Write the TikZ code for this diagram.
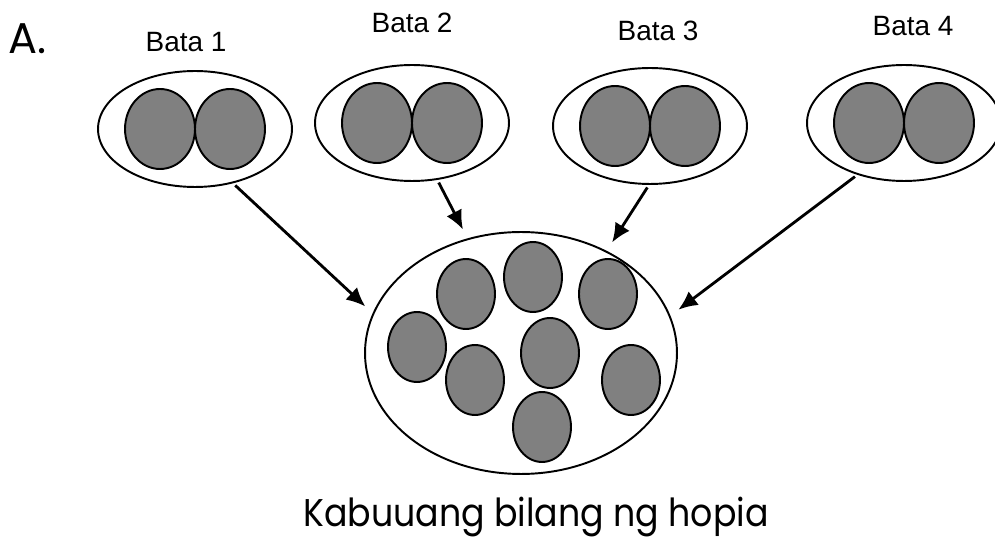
\documentclass[tikz,border=0pt]{standalone}
\usepackage{fontspec}
\setmainfont{Liberation Sans}
\newfontfamily\gothicfont{Poppins}
\newfontfamily\narrowgothicfont[FakeStretch=0.9]{Poppins}
\usetikzlibrary{shapes.geometric,arrows.meta}

\definecolor{hopiagray}{HTML}{808080}

\tikzset{
    group/.style={ellipse, draw, line width=1.1pt, inner sep=0pt,
        minimum width=3.88cm, minimum height=2.32cm},
    hopia/.style={ellipse, draw, line width=1.1pt, fill=hopiagray, inner sep=0pt,
        minimum width=1.4cm, minimum height=1.6cm},
    smallhopia/.style={hopia, minimum width=1.16cm, minimum height=1.4cm},
    batalabel/.style={inner sep=0pt, anchor=base,
        font=\fontsize{15.9pt}{18pt}\selectfont},
    bigtext/.style={inner sep=0pt,
        font=\gothicfont\fontsize{24.5pt}{28pt}\selectfont},
    flow/.style={-{Latex[length=0.38cm,width=0.34cm]}, line width=1.6pt,
        shorten <=0.06cm, shorten >=0.2cm}
}

\begin{document}
\begin{tikzpicture}[x=0.02cm,y=-0.02cm]
    \useasboundingbox (0,0) rectangle (995,540);
    % Title letter
    \node[bigtext, anchor=base west] (title) at (8,54) {A.};

    % Groups of two
    \foreach \n/\cx/\cy/\lx/\ly in {1/195/129/186/52, 2/412/123/412/33,
        3/650/126/658/41, 4/904/123/913/36} {
        \node[group] (b\n) at (\cx,\cy) {};
        \node[hopia] (b\n-l) at ({\cx-35},\cy) {};
        \node[hopia] (b\n-r) at ({\cx+35},\cy) {};
        \node[batalabel] (t\n) at (\lx,\ly) {Bata \n};
    }

    % Total
    \node[group, minimum width=6.24cm, minimum height=4.84cm] (total) at (521,353) {};
    \foreach \i/\x/\y in {1/417/347, 2/466/294, 3/533/277, 4/608/294,
        5/475/380, 6/550/353, 7/631/380, 8/542/427}
        \node[smallhopia] (h\i) at (\x,\y) {};

    % Arrows
    \draw[flow] (b1.-55) -- (total.165);
    \draw[flow] (b2.-66) -- (total.115);
    \draw[flow] (b3.-91) -- (total.50);
    \draw[flow] (b4.-132) -- (total.14);

    \node[bigtext, font=\narrowgothicfont\fontsize{22pt}{26pt}\selectfont,
        anchor=base] (caption) at (536,527) {Kabuuang bilang ng hopia};
\end{tikzpicture}
\end{document}
